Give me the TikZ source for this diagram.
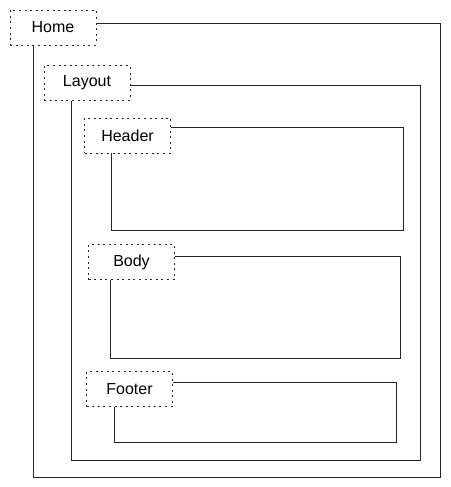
\documentclass[tikz,border=0pt]{standalone}
\usepackage{fontspec}
\setmainfont{Liberation Sans}
\usepackage{tikz}

\begin{document}
\begin{tikzpicture}[x=1pt, y=-1pt,
            line width=0.9pt, draw=black!85,
            part/.style={draw, dash pattern=on 2pt off 3.6pt, line width=0.8pt,
                minimum width=86pt, minimum height=35pt, inner sep=0,
                font=\fontsize{16}{19}\selectfont}]
        \useasboundingbox (0,0) rectangle (450,487);

        \node (home)   [part] at ( 53.0, 27.5) {Home};
        \node (layout) [part] at ( 87.0, 83.0) {Layout};
        \node (header) [part] at (127.5,135.5) {Header};
        \node (body)   [part] at (131.5,262.0) {Body};
        \node (footer) [part] at (129.5,389.0) {Footer};

        \coordinate (homeNE)   at (440, 23);  \coordinate (homeSW)   at ( 33,477);
        \coordinate (layoutNE) at (420, 85);  \coordinate (layoutSW) at ( 71,460);
        \coordinate (headerNE) at (403,127);  \coordinate (headerSW) at (111,230);
        \coordinate (bodyNE)   at (400,256);  \coordinate (bodySW)   at (110,358);
        \coordinate (footerNE) at (396,382);  \coordinate (footerSW) at (114,442);

        \draw (homeNE -| home.east) -- (homeNE) -- (homeNE |- homeSW)
            -- (homeSW) -- (homeSW |- home.south);
        \draw (layoutNE -| layout.east) -- (layoutNE) -- (layoutNE |- layoutSW)
            -- (layoutSW) -- (layoutSW |- layout.south);
        \draw (headerNE -| header.east) -- (headerNE) -- (headerNE |- headerSW)
            -- (headerSW) -- (headerSW |- header.south);
        \draw (bodyNE -| body.east) -- (bodyNE) -- (bodyNE |- bodySW)
            -- (bodySW) -- (bodySW |- body.south);
        \draw (footerNE -| footer.east) -- (footerNE) -- (footerNE |- footerSW)
            -- (footerSW) -- (footerSW |- footer.south);
    \end{tikzpicture}
\end{document}
